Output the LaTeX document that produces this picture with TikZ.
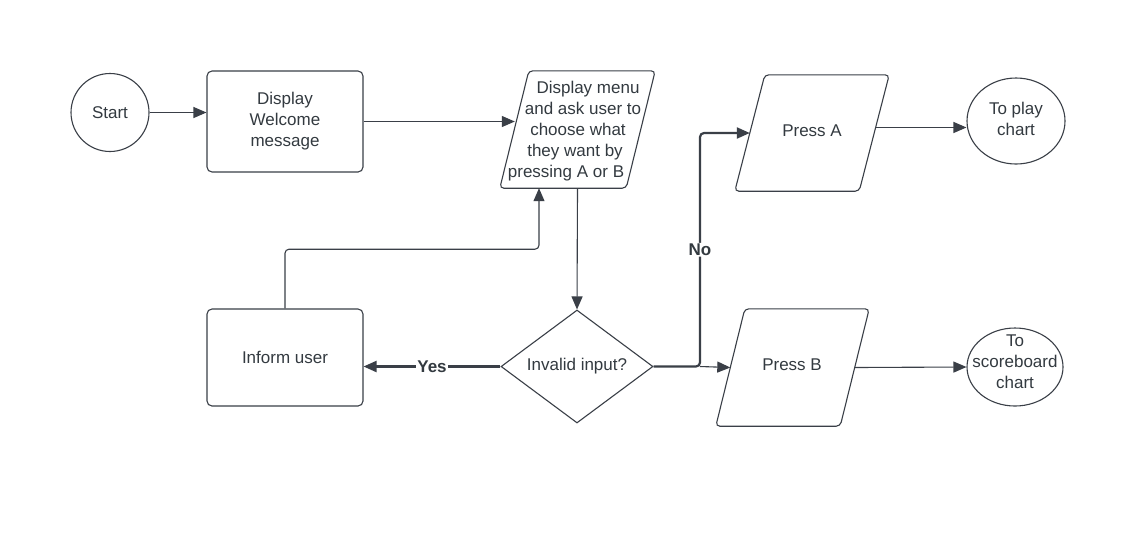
\documentclass[tikz,border=0pt]{standalone}
\usepackage{fontspec}
\setmainfont{Liberation Sans}
\usetikzlibrary{shapes.geometric,arrows.meta,calc}
\definecolor{ln}{HTML}{3A3F47}
\definecolor{tx}{HTML}{333A40}
\begin{document}
\begin{tikzpicture}[x=1pt,y=-1pt,
  every node/.style={font=\fontsize{17}{21}\selectfont, text=tx},
  shp/.style={draw=ln, line width=1.1pt},
  boxs/.style={shp, rectangle, rounded corners=5pt, minimum width=156pt, inner sep=0pt},
  pframe/.style={rectangle, inner sep=0pt},
  pline/.style={draw=ln, line width=1.1pt, rounded corners=4pt},
  txt/.style={align=center, inner sep=0pt},
  tip/.style={-{Triangle[length=13pt,width=11pt]}},
  conn/.style={draw=ln, line width=1.1pt, tip},
  thick conn/.style={draw=ln, line width=2.2pt, tip},
  lab/.style={font=\fontsize{17}{21}\selectfont\bfseries, fill=white, inner sep=1pt}
]
\useasboundingbox[fill=white] (0,0) rectangle (1131,542);

% nodes
\node[shp, circle, minimum size=78pt, inner sep=0pt] (start) at (110,112.5) {Start};
\node[boxs, minimum height=101pt, align=center] (welcome) at (285,121.5) {Display\\Welcome\\message};
\node[pframe, minimum width=155pt, minimum height=117pt] (menu) at (577.5,129.5) {};
\node[txt] (menutext) at (577,131) {\kern22pt Display menu\\\kern12pt and ask user to\\\kern2pt choose what\\\kern-4pt they want by\\\kern-22pt pressing A or B};
\node[shp, diamond, minimum width=152pt, minimum height=113pt, aspect=1.35, inner sep=0pt] (dia) at (577,366.5) {Invalid input?};
\node[boxs, minimum height=97pt] (inf) at (285,357.5) {Inform user};
\node[pframe, minimum width=154pt, minimum height=116pt] (pa) at (812,133) {};
\node[txt] (patext) at (812,131) {Press A};
\node[pframe, minimum width=153pt, minimum height=117pt] (pb) at (792.5,367.5) {};
\node[txt] (pbtext) at (792,365) {Press B};
\node[shp, ellipse, minimum width=98pt, minimum height=86pt, inner sep=0pt] (play) at (1016,121) {};
\node[txt] (playtext) at (1016,119) {To play\\chart};
\node[shp, ellipse, minimum width=96pt, minimum height=78pt, inner sep=0pt] (scb) at (1015,367) {};
\node[txt] (scbtext) at (1015,362) {To\\scoreboard\\chart};

% parallelogram outlines
\foreach \n/\s in {menu/29, pa/30, pb/29}{
  \draw[pline] ($(\n.north west)+(\s,0)$) -- (\n.north east) -- ($(\n.south east)+(-\s,0)$) -- (\n.south west) -- cycle;
}

% helper coordinates
\coordinate (mwest) at ($(menu.west)+(15,0)$);
\coordinate (mbot) at (menu.south);
\coordinate (mret) at ($(mbot)+(-38.5,0)$);
\coordinate (nj) at (700,366.5);
\coordinate (pawest) at ($(pa.west)+(15,0)$);
\coordinate (paeast) at ($(pa.east)+(-14,-5.5)$);
\coordinate (pbwest) at ($(pb.west)+(14.5,0)$);
\coordinate (pbeast) at ($(pb.east)+(-14.5,0)$);

% connectors
\draw[conn] (start.east) -- (welcome.west |- start.east);
\draw[conn] (welcome.east) -- (welcome.east -| mwest);
\draw[conn] (mbot) -- (dia.north);
\draw[conn, rounded corners=4pt] (inf.north) |- ($(mret)+(0,61)$) -- (mret);
\draw[thick conn] (dia.west) -- node[lab] (yes) {Yes} (dia.west -| inf.east);
\draw[thick conn, rounded corners=4pt] (dia.east) -- (nj) -- node[lab] (no) {No} (nj |- pawest) -- (pawest);
\draw[conn] (nj) -- (pbwest);
\draw[conn] (paeast) -- (paeast -| play.west);
\draw[conn] (pbeast) -- (scb.west);
\end{tikzpicture}
\end{document}
